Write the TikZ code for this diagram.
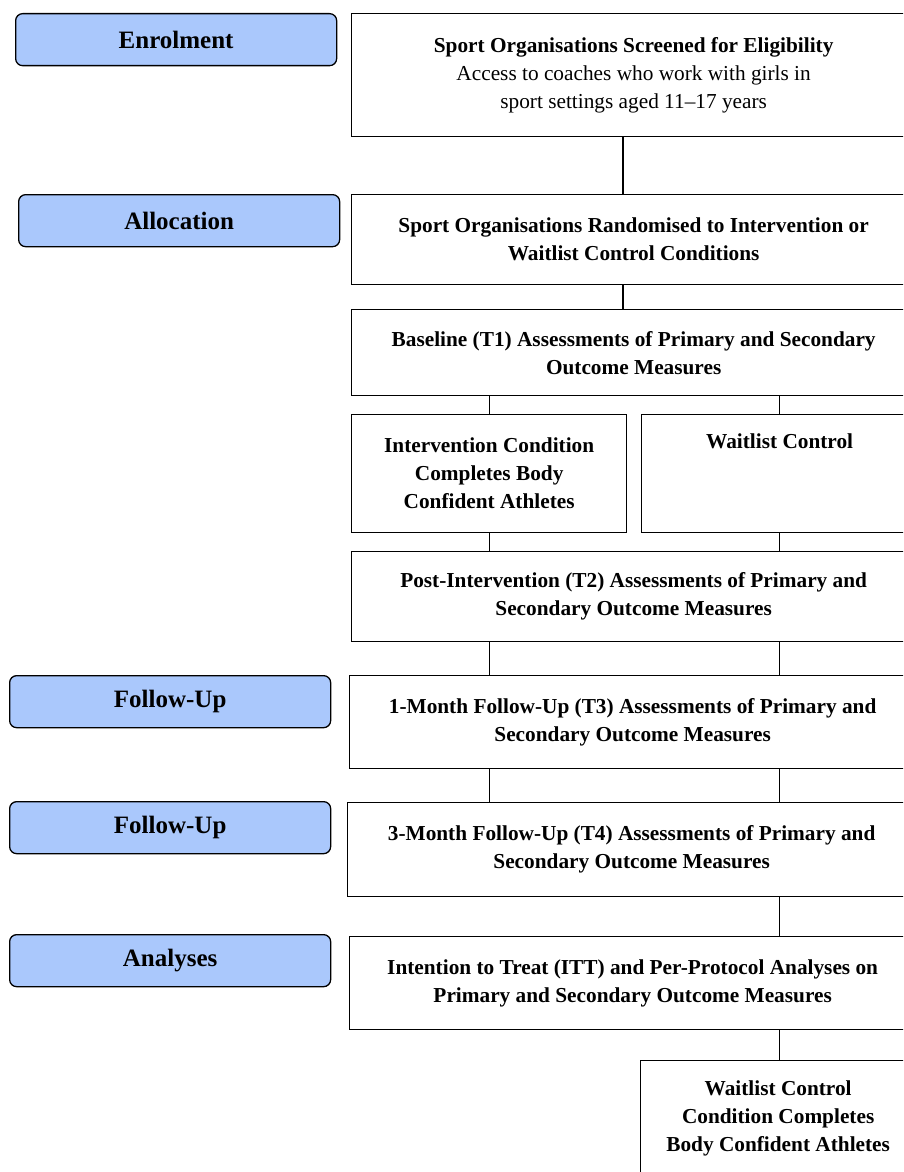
\documentclass[tikz,border=0pt]{standalone}
\usepackage{fontspec}
\setmainfont{Liberation Serif}
\usepackage{xcolor}
\usetikzlibrary{positioning}
\definecolor{tabblue}{RGB}{170,200,252}

\begin{document}
\begin{tikzpicture}[
      x=1pt, y=-1pt,
      box/.style={draw, line width=1.3pt, align=center, anchor=north west, inner sep=0pt,
                  font=\fontsize{21.3}{28}\selectfont\bfseries},
      stage/.style={draw, line width=1.3pt, rounded corners=7pt, fill=tabblue, anchor=north west,
                    inner sep=0pt, minimum width=321pt, minimum height=52pt,
                    font=\fontsize{25}{30}\selectfont\bfseries},
      conn/.style={line width=1.3pt}
    ]
    \useasboundingbox (0,0) rectangle (903,1172);
    \clip (0,0) rectangle (903,1172);

    % stage tabs on the left
    \node[stage] (enrol) at (15,13)  {Enrolment};
    \node[stage] (alloc) at (18,194) {Allocation};
    \node[stage] (fuone) at (9,675)  {Follow-Up};
    \node[stage] (futwo) at (9,801)  {Follow-Up};
    \node[stage] (anal)  at (9,934)  {Analyses};

    % flow boxes
    \node[box, minimum width=564pt, minimum height=123pt] (screen) at (351,13)
      {Sport Organisations Screened for Eligibility\\
       \mdseries Access to coaches who work with girls in\\
       \mdseries sport settings aged 11--17 years};
    \node[box, minimum width=564pt, minimum height=90pt] (rand) at (351,194)
      {Sport Organisations Randomised to Intervention or\\Waitlist Control Conditions};
    \node[box, minimum width=564pt, minimum height=86pt] (base) at (351,309)
      {Baseline (T1) Assessments of Primary and Secondary\\Outcome Measures};
    \node[box, minimum width=275pt, minimum height=118pt] (interv) at (351,414)
      {Intervention Condition\\Completes Body\\Confident Athletes};
    \node[box, minimum width=276pt, minimum height=118pt] (wait) at (641,414)
      {Waitlist Control\\\strut\\\strut};
    \node[box, minimum width=564pt, minimum height=90pt] (post) at (351,551)
      {Post-Intervention (T2) Assessments of Primary and\\Secondary Outcome Measures};
    \node[box, minimum width=566pt, minimum height=93pt] (monone) at (349,675)
      {1-Month Follow-Up (T3) Assessments of Primary and\\Secondary Outcome Measures};
    \node[box, minimum width=568pt, minimum height=94pt] (monthree) at (347,802)
      {3-Month Follow-Up (T4) Assessments of Primary and\\Secondary Outcome Measures};
    \node[box, minimum width=566pt, minimum height=93pt] (itt) at (349,936)
      {Intention to Treat (ITT) and Per-Protocol Analyses on\\Primary and Secondary Outcome Measures};
    \node[box, minimum width=275pt, minimum height=115pt] (waitdone) at (640,1060)
      {Waitlist Control\\Condition Completes\\Body Confident Athletes};

    \coordinate (trunk) at (623,0);

    \draw[conn] (screen.south -| trunk) -- (rand.north -| trunk);
    \draw[conn] (rand.south -| trunk) -- (base.north -| trunk);
    \draw[conn] (base.south -| interv) -- (interv.north);
    \draw[conn] (base.south -| wait) -- (wait.north);
    \draw[conn] (interv.south) -- (post.north -| interv);
    \draw[conn] (wait.south) -- (post.north -| wait);
    \draw[conn] (post.south -| interv) -- (monone.north -| interv);
    \draw[conn] (post.south -| wait) -- (monone.north -| wait);
    \draw[conn] (monone.south -| interv) -- (monthree.north -| interv);
    \draw[conn] (monone.south -| wait) -- (monthree.north -| wait);
    \draw[conn] (monthree.south -| wait) -- (itt.north -| wait);
    \draw[conn] (itt.south -| wait) -- (waitdone.north -| wait);
  \end{tikzpicture}
\end{document}
